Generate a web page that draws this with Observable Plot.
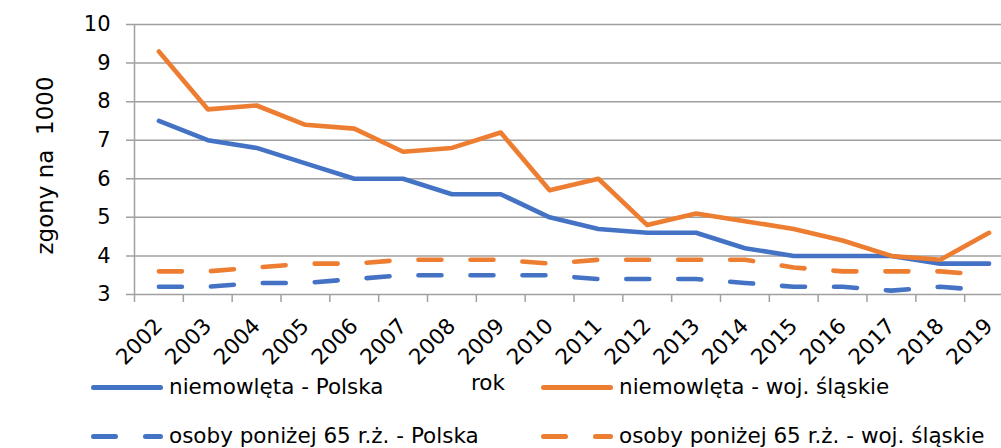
<!DOCTYPE html>
<html><head><meta charset="utf-8">
<script src="https://cdn.jsdelivr.net/npm/d3@7"></script>
<script src="https://cdn.jsdelivr.net/npm/@observablehq/plot@0.6"></script>
<style>
body{margin:0;background:#fff;}
#wrap{position:relative;width:1001px;height:448px;overflow:hidden;font-family:"DejaVu Sans",sans-serif;color:#000;}
#wrap svg text{white-space:pre;}
.leg{position:absolute;display:flex;align-items:center;font-size:21.5px;line-height:1;white-space:nowrap;}
.sw{position:relative;width:72px;height:5px;margin-right:6px;}
.sw span{position:absolute;top:0;height:5px;border-radius:3px;}
#rok{position:absolute;left:471px;top:370px;font-size:21.5px;line-height:1.2;}
</style></head><body><div id="wrap"></div>
<script>
const years = [2002,2003,2004,2005,2006,2007,2008,2009,2010,2011,2012,2013,2014,2015,2016,2017,2018,2019];
const infantPL  = [7.5,7.0,6.8,6.4,6.0,6.0,5.6,5.6,5.0,4.7,4.6,4.6,4.2,4.0,4.0,4.0,3.8,3.8];
const infantSL  = [9.3,7.8,7.9,7.4,7.3,6.7,6.8,7.2,5.7,6.0,4.8,5.1,4.9,4.7,4.4,4.0,3.9,4.6];
const under65PL = [3.2,3.2,3.3,3.3,3.4,3.5,3.5,3.5,3.5,3.4,3.4,3.4,3.3,3.2,3.2,3.1,3.2,3.1];
const under65SL = [3.6,3.6,3.7,3.8,3.8,3.9,3.9,3.9,3.8,3.9,3.9,3.9,3.9,3.7,3.6,3.6,3.6,3.5];
const seriesNames = ["niemowlęta - Polska","niemowlęta - woj. śląskie","osoby poniżej 65 r.ż. - Polska","osoby poniżej 65 r.ż. - woj. śląskie"];
const seriesValues = [infantPL, infantSL, under65PL, under65SL];
const seriesColors = ["#4472C4","#ED7D31","#4472C4","#ED7D31"];
const seriesDashed = [false,false,true,true];
const yTicks = [3,4,5,6,7,8,9,10];
const yTitle = "zgony na  1000";
const xTitle = "rok";

const bounds = d3.range(years[0]-0.5, years[years.length-1]+1, 1);

const lineMarks = seriesValues.map((vals,i) =>
  Plot.line(years.map((yr,j)=>({year:yr, v:vals[j]})), {
    x:"year", y:"v", stroke: seriesColors[i], strokeWidth: 4.6,
    strokeLinecap:"round", strokeLinejoin:"round",
    strokeDasharray: seriesDashed[i] ? "23,29" : null
  }));

const chart = Plot.plot({
  width: 1001, height: 448,
  marginLeft: 134, marginRight: -12, marginTop: 24, marginBottom: 154,
  style: {fontFamily: "'DejaVu Sans', sans-serif", background: "#fff", color: "#000"},
  x: {type:"linear", domain:[years[0]-0.5, years[years.length-1]+0.5]},
  y: {domain:[3,10]},
  marks: [
    Plot.ruleY(yTicks, {stroke:"#a0a0a0", strokeWidth:1.5, insetLeft:-8}),
    Plot.ruleX([years[0]-0.5], {y1:3, y2:10, stroke:"#a0a0a0", strokeWidth:1.5}),
    Plot.axisX({ticks: bounds, tickSize: 8, tickFormat: () => "", stroke:"#a0a0a0", strokeWidth:1.5, label:null, strokeOpacity:1}),
    Plot.axisX({ticks: years, tickSize: 0, tickRotate: -45, tickPadding: 28, tickFormat: d => String(d), fontSize: 21.5, label: null}),
    Plot.axisY({ticks: yTicks, tickSize: 0, tickPadding: 24, fontSize: 21, tickFormat: d => String(d), label: null}),
    Plot.text([yTitle], {frameAnchor:"left", textAnchor:"middle", dx:-89, dy:6, rotate:-90, fontSize:23, text: d=>d}),
    ...lineMarks
  ]
});

const wrap = d3.select("#wrap");
wrap.node().appendChild(chart);
d3.select(chart).style("position","absolute").style("left","0px").style("top","0px");
wrap.append("div").attr("id","rok").text(xTitle);

const legPos = [[91,387],[541,387],[91,436],[541,436]];
seriesNames.forEach((name,i)=>{
  const g = wrap.append("div").attr("class","leg")
    .style("left", legPos[i][0]+"px").style("top", (legPos[i][1]-11)+"px").style("height","22px");
  const sw = g.append("div").attr("class","sw");
  if (seriesDashed[i]) {
    sw.append("span").style("left","0px").style("width","27px").style("background",seriesColors[i]);
    sw.append("span").style("left","52px").style("width","20px").style("background",seriesColors[i]);
  } else {
    sw.append("span").style("left","0px").style("width","72px").style("background",seriesColors[i]);
  }
  g.append("span").text(name);
});
</script>
</body></html>
